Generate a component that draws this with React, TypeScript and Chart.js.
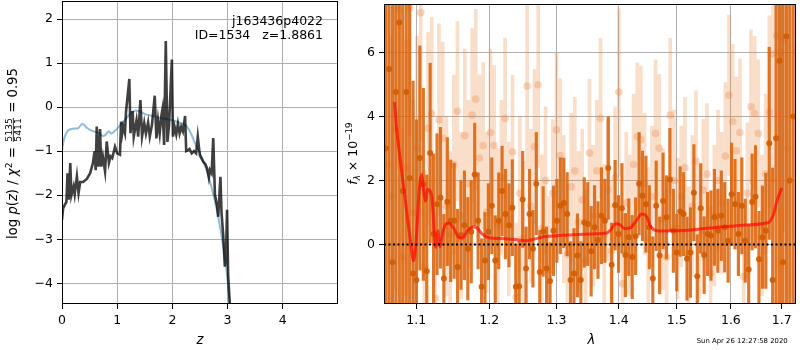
import React, { useEffect, useRef } from "react";
import { Chart, registerables } from "chart.js";

Chart.register(...registerables);

const FAMILY = '"DejaVu Sans", "Liberation Sans", sans-serif';
const TICK_SIZE = 12.5;
const LABEL_SIZE = 13.2;

// ---------- left panel: p(z) ----------
const zTicks = [0, 1, 2, 3, 4];
const logpTicks = [-4, -3, -2, -1, 0, 1, 2];
const zMin = 0;
const zMax = 5;
const logpMin = -4.47;
const logpMax = 2.41;

const priorZ = [0.0, 0.01, 0.05, 0.11, 0.2, 0.29, 0.37, 0.46, 0.57, 0.66, 0.73, 0.79, 0.84, 0.9, 0.99, 1.11, 1.23, 1.32, 1.41, 1.53, 1.68, 1.83, 1.98, 2.13, 2.25, 2.34, 2.43, 2.52, 2.61, 2.7, 2.79, 2.88, 2.97, 3.04, 3.08];
const priorLogP = [-1.0, -0.9, -0.67, -0.53, -0.49, -0.48, -0.38, -0.48, -0.55, -0.58, -0.65, -0.63, -0.55, -0.6, -0.5, -0.33, -0.16, -0.08, -0.1, -0.17, -0.21, -0.26, -0.29, -0.35, -0.43, -0.61, -0.88, -1.1, -1.4, -1.78, -2.24, -2.84, -3.6, -4.44, -4.8];

const pzZ = [0, 0.02, 0.05, 0.08, 0.10, 0.12, 0.15, 0.17, 0.21, 0.23, 0.27, 0.30, 0.33, 0.38, 0.45, 0.51, 0.56, 0.59, 0.61, 0.63, 0.66, 0.69, 0.71, 0.74, 0.78, 0.81, 0.85, 0.88, 0.91, 0.96, 1.0, 1.05, 1.07, 1.09, 1.11, 1.14, 1.16, 1.22, 1.24, 1.28, 1.30, 1.35, 1.38, 1.42, 1.45, 1.49, 1.52, 1.56, 1.59, 1.63, 1.68, 1.71, 1.74, 1.77, 1.80, 1.82, 1.85, 1.88, 1.91, 1.94, 1.99, 2.01, 2.04, 2.07, 2.10, 2.13, 2.16, 2.19, 2.23, 2.25, 2.27, 2.31, 2.35, 2.39, 2.43, 2.46, 2.48, 2.50, 2.56, 2.60, 2.63, 2.66, 2.68, 2.71, 2.74, 2.77, 2.81, 2.83, 2.87, 2.89, 2.92, 2.95, 2.97, 2.99, 3.01, 3.04, 3.06];
const pzLogP = [-2.56, -2.3, -2.22, -2.15, -1.5, -2.1, -1.27, -2.0, -1.8, -1.98, -1.57, -1.95, -1.7, -1.7, -1.63, -1.5, -1.27, -1.0, -1.43, -0.44, -1.35, -0.5, -1.35, -1.12, -1.46, -0.78, -1.27, -1.12, -1.16, -0.9, -1.05, -1.08, -0.33, -0.6, -0.44, -0.59, -0.1, 0.64, -0.59, -0.09, -0.67, -0.3, -0.67, 0.16, -0.67, -0.36, -0.6, -0.35, -0.67, -0.4, 0.26, -0.71, -0.3, -0.6, -0.2, -0.05, -0.86, 1.5, -0.79, -0.4, 1.08, -0.67, -0.45, -0.62, -0.38, -0.6, -0.45, -0.55, -0.2, -1.0, -0.99, -0.95, -1.05, -1.0, -1.05, -0.67, -0.9, -1.1, -1.24, -1.3, -1.4, -1.6, -1.43, -1.5, -0.7, -1.98, -2.25, -2.49, -1.58, -2.4, -2.9, -3.62, -3.4, -2.33, -3.8, -4.5, -4.8];

// ---------- right panel: spectrum ----------
const lamTicks = [1.1, 1.2, 1.3, 1.4, 1.5, 1.6, 1.7];
const fluxTicks = [0, 2, 4, 6];
const lamMin = 1.0587;
const lamMax = 1.729;
const fluxMin = -1.856;
const fluxMax = 7.51;

const darkLam = [1.0608, 1.0651, 1.0695, 1.0738, 1.0782, 1.0826, 1.0871, 1.0915, 1.0960, 1.1004,
  1.1049, 1.1095, 1.1140, 1.1185, 1.1231, 1.1277, 1.1323, 1.1369, 1.1416, 1.1462,
  1.1509, 1.1556, 1.1603, 1.1651, 1.1698, 1.1746, 1.1794, 1.1842, 1.1891, 1.1939,
  1.1988, 1.2037, 1.2086, 1.2136, 1.2185, 1.2235, 1.2285, 1.2335, 1.2386, 1.2436,
  1.2487, 1.2538, 1.2589, 1.2641, 1.2692, 1.2744, 1.2796, 1.2848, 1.2901, 1.2954,
  1.3006, 1.3060, 1.3113, 1.3167, 1.3220, 1.3274, 1.3329, 1.3383, 1.3438, 1.3493,
  1.3548, 1.3603, 1.3659, 1.3715, 1.3771, 1.3827, 1.3883, 1.3940, 1.3997, 1.4054,
  1.4112, 1.4169, 1.4227, 1.4285, 1.4344, 1.4402, 1.4461, 1.4520, 1.4580, 1.4639,
  1.4699, 1.4759, 1.4819, 1.4880, 1.4941, 1.5002, 1.5063, 1.5125, 1.5186, 1.5248,
  1.5311, 1.5373, 1.5436, 1.5499, 1.5563, 1.5626, 1.5690, 1.5754, 1.5819, 1.5883,
  1.5948, 1.6013, 1.6079, 1.6144, 1.6210, 1.6276, 1.6343, 1.6410, 1.6477, 1.6544,
  1.6612, 1.6680, 1.6748, 1.6816, 1.6885, 1.6954, 1.7023, 1.7093, 1.7163, 1.7233];
const darkFlux = [3.0, 5.48, -0.55, 4.76, 6.93, 1.67, 4.76, 2.08, -0.9, -1.11,
  2.7, 1.88, -0.83, 2.86, 0.33, 1.26, 1.46, -1.06, 1.34, 0.74,
  0.74, -0.7, 0.3, 0.6, -0.13, 0.4, 2.19, 0.74, -1.32, -0.5,
  0.4, 1.21, -0.5, 0.74, 1.67, 0.95, 0.6, 1.15, -1.32, -1.3,
  1.41, -0.75, 0.95, -0.13, 1.9, -0.86, 0.41, -0.75, -1.14, 0.43,
  0.74, 1.21, 1.3, 0.95, -1.11, -0.9, -0.34, -1.11, 0.69, 0.64,
  -0.21, 0.54, 0.14, 0.9, 0.74, 2.39, -0.63, 1.23, 0.33, 1.13,
  -0.33, 0.23, -0.39, 0.26, 1.9, 1.52, 1.26, 0.54, -1.06, 1.21,
  -0.34, 1.36, 0.85, 2.03, 0.43, -0.25, 1.03, 0.95, -0.44, -0.25,
  1.62, -0.99, 1.13, -0.33, 0.33, 0.28, 0.85, 0.43, 0.9, 0.54,
  0.12, 1.57, 1.26, 0.33, 1.21, 0.12, -0.78, 1.33, 1.49, -0.46,
  0.23, 0.43, 3.16, -1.11, 3.32, 5.74, -0.55, 6.5, 2.0, 4.0];
const darkErr = [9, 9, 9, 9, 9, 8, 8, 7, 6, 5,
  3.5, 3.0, 3.0, 2.8, 2.5, 2.2, 2.2, 2.0, 2.0, 1.9,
  1.8, 1.8, 1.7, 1.7, 1.6, 1.6, 1.6, 1.5, 1.5, 1.5,
  1.5, 1.5, 1.4, 1.5, 1.4, 1.4, 1.3, 1.5, 1.3, 1.4,
  1.5, 1.3, 1.4, 1.2, 1.6, 1.3, 1.4, 1.3, 1.2, 1.4,
  1.3, 1.5, 1.4, 1.3, 1.2, 1.4, 1.3, 1.2, 1.4, 1.3,
  1.4, 1.3, 1.2, 1.5, 1.3, 1.6, 1.3, 1.4, 1.2, 1.4,
  1.3, 1.2, 1.3, 1.2, 1.6, 1.4, 1.5, 1.3, 1.3, 1.4,
  1.2, 1.5, 1.3, 1.6, 1.3, 1.2, 1.4, 1.3, 1.3, 1.4,
  1.5, 1.3, 1.4, 1.2, 1.3, 1.4, 1.5, 1.3, 1.4, 1.4,
  1.3, 1.6, 1.4, 1.3, 1.5, 1.3, 1.4, 1.5, 1.6, 1.5,
  1.6, 1.8, 3.0, 3.5, 6, 9, 9, 9, 9, 9];

const lightLam = [1.0633, 1.0680, 1.0727, 1.0774, 1.0821, 1.0868, 1.0916, 1.0964, 1.1012, 1.1060,
  1.1108, 1.1157, 1.1206, 1.1255, 1.1304, 1.1354, 1.1404, 1.1454, 1.1504, 1.1554,
  1.1605, 1.1656, 1.1707, 1.1758, 1.1809, 1.1861, 1.1913, 1.1965, 1.2018, 1.2070,
  1.2123, 1.2176, 1.2229, 1.2283, 1.2337, 1.2391, 1.2445, 1.2499, 1.2554, 1.2609,
  1.2664, 1.2720, 1.2775, 1.2831, 1.2887, 1.2944, 1.3000, 1.3057, 1.3114, 1.3172,
  1.3230, 1.3287, 1.3346, 1.3404, 1.3463, 1.3522, 1.3581, 1.3640, 1.3700, 1.3760,
  1.3820, 1.3881, 1.3942, 1.4003, 1.4064, 1.4126, 1.4187, 1.4250, 1.4312, 1.4375,
  1.4438, 1.4501, 1.4564, 1.4628, 1.4692, 1.4757, 1.4821, 1.4886, 1.4951, 1.5017,
  1.5083, 1.5149, 1.5215, 1.5282, 1.5349, 1.5416, 1.5483, 1.5551, 1.5619, 1.5688,
  1.5756, 1.5825, 1.5895, 1.5964, 1.6034, 1.6104, 1.6175, 1.6246, 1.6317, 1.6388,
  1.6460, 1.6532, 1.6604, 1.6677, 1.6750, 1.6823, 1.6897, 1.6971, 1.7045, 1.7120];
const lightFlux = [2.5, 1.5, 3.6, 7.34, -0.39, 2.4, 7.4, 1.0, 3.0, 7.24,
  -0.7, 3.63, 4.09, -1.68, 3.89, 3.32, 1.2, 0.3, 2.5, 4.16,
  0.9, 3.4, 1.9, 4.04, 4.54, 2.7, 3.09, 1.0, 3.5, 3.09,
  0.6, 2.1, 3.94, 0.8, 2.89, -1.63, 1.6, 0.2, 4.95, 1.2,
  3.06, 4.99, 0.5, 2.0, -0.8, 1.6, 3.58, 2.78, 1.1, -0.3,
  1.8, 2.3, 0.7, 1.4, -0.5, 2.86, 0.9, 2.3, 3.94, 0.3,
  1.7, -0.2, 2.1, 4.76, -1.22, 1.3, 0.6, 2.5, 3.37, 3.27,
  1.9, 0.2, 1.5, 3.47, 3.01, 0.8, -0.4, 4.04, 2.0, 0.5,
  1.5, 2.4, -0.3, 1.2, 2.6, 0.4, 1.7, 2.2, -0.9, 0.9,
  2.0, 1.3, 2.76, 4.66, 3.84, 2.93, 3.5, -1.0, 1.6, 4.3,
  4.09, 3.47, 0.6, 2.2, 4.14, 5.95, 6.52, 6.0, 6.4, 3.0];
const lightErr = [6, 5, 5, 5, 4, 4, 4, 3.5, 3.5, 4,
  3, 3, 3, 2.8, 3, 3, 2.8, 2.6, 2.8, 2.8,
  2.6, 2.7, 2.6, 2.7, 2.8, 2.6, 2.6, 2.5, 2.6, 2.5,
  2.4, 2.4, 2.5, 2.4, 2.4, 2.3, 2.4, 2.4, 2.6, 2.4,
  2.4, 2.6, 2.3, 2.3, 2.3, 2.3, 2.4, 2.4, 2.3, 2.2,
  2.3, 2.3, 2.2, 2.2, 2.2, 2.3, 2.2, 2.2, 2.5, 2.2,
  2.2, 2.2, 2.2, 2.6, 2.2, 2.2, 2.2, 2.2, 2.3, 2.3,
  2.2, 2.2, 2.2, 2.3, 2.3, 2.2, 2.1, 2.4, 2.2, 2.2,
  2.2, 2.2, 2.1, 2.2, 2.2, 2.1, 2.2, 2.2, 2.1, 2.2,
  2.2, 2.2, 2.3, 2.5, 2.4, 2.3, 2.3, 2.2, 2.2, 2.4,
  2.4, 2.3, 2.2, 2.5, 3, 4, 5, 6, 6, 7];

const modelLam = [1.0721, 1.0751, 1.0807, 1.0871, 1.0935, 1.0965, 1.1000, 1.1043, 1.1073, 1.1095, 1.1122, 1.1152, 1.1184, 1.1210, 1.1241, 1.1263, 1.1290, 1.1317, 1.1361, 1.1397, 1.1451, 1.1510, 1.1568, 1.1632, 1.1692, 1.1761, 1.1831, 1.1901, 1.1996, 1.2235, 1.2380, 1.2527, 1.2626, 1.2827, 1.3030, 1.3342, 1.3553, 1.3796, 1.3878, 1.3934, 1.4016, 1.4099, 1.4210, 1.4294, 1.4379, 1.4464, 1.4550, 1.4653, 1.4898, 1.5195, 1.5498, 1.6121, 1.6735, 1.6835, 1.6901, 1.7000];
const modelFlux = [4.45, 3.53, 2.39, 1.15, -0.08, -0.5, 0.12, 1.77, 2.19, 1.77, 1.36, 1.72, 1.67, 1.46, 0.33, -0.08, 0.43, -0.08, 0.43, 0.64, 0.66, 0.48, 0.23, 0.21, 0.43, 0.54, 0.51, 0.33, 0.21, 0.18, 0.16, 0.12, 0.15, 0.25, 0.28, 0.31, 0.33, 0.36, 0.48, 0.64, 0.62, 0.5, 0.54, 0.74, 0.95, 0.9, 0.54, 0.43, 0.43, 0.45, 0.5, 0.59, 0.69, 0.95, 1.36, 1.77];

// ---------- helpers ----------
type Seg = { t?: string; it?: boolean; sc?: number; dy?: number; num?: string; den?: string };

function fontStr(size: number, italic = false) {
  return `${italic ? "italic " : ""}${size}px ${FAMILY}`;
}

function drawRich(ctx: CanvasRenderingContext2D, segs: Seg[], cx: number, cy: number, size: number, rotate: boolean) {
  ctx.save();
  ctx.translate(cx, cy);
  if (rotate) ctx.rotate(-Math.PI / 2);
  const widths = segs.map((s) => {
    if (s.num !== undefined) {
      ctx.font = fontStr(size * (s.sc || 0.7));
      return Math.max(ctx.measureText(s.num).width, ctx.measureText(s.den || "").width) + size * 0.2;
    }
    ctx.font = fontStr(size * (s.sc || 1), !!s.it);
    return ctx.measureText(s.t || "").width;
  });
  const total = widths.reduce((a, b) => a + b, 0);
  let x = -total / 2;
  const by = 0.36 * size;
  ctx.fillStyle = "#000";
  ctx.textBaseline = "alphabetic";
  segs.forEach((s, i) => {
    const w = widths[i];
    if (s.num !== undefined) {
      ctx.font = fontStr(size * (s.sc || 0.7));
      ctx.textAlign = "center";
      const bar = by - 0.3 * size;
      ctx.fillText(s.num, x + w / 2, bar - 0.1 * size);
      ctx.fillText(s.den || "", x + w / 2, bar + 0.6 * size);
      ctx.fillRect(x + 0.08 * size, bar - 0.4, w - 0.16 * size, 0.8);
    } else {
      ctx.font = fontStr(size * (s.sc || 1), !!s.it);
      ctx.textAlign = "left";
      ctx.fillText(s.t || "", x, by + (s.dy || 0) * size);
    }
    x += w;
  });
  ctx.restore();
}

const fmtNum = (v: number) => (v < 0 ? "\u2212" + String(Math.abs(v)) : String(v));

function axis(ticks: number[], fmt: (v: number) => string, isX: boolean, thickness: number) {
  return {
    grid: { color: "#b0b0b0", lineWidth: 1, tickColor: "#000", tickLength: 5, drawTicks: true, offset: false },
    border: { display: false },
    ticks: {
      color: "#000",
      font: { family: FAMILY, size: TICK_SIZE },
      padding: 4,
      autoSkip: false,
      maxRotation: 0,
      minRotation: 0,
      callback: (v: any) => fmt(Number(v)),
    },
    afterBuildTicks: (s: any) => {
      s.ticks = ticks.map((v) => ({ value: v }));
    },
    afterFit: (s: any) => {
      if (isX) s.height = thickness;
      else s.width = thickness;
      s.paddingTop = 0;
      s.paddingBottom = 0;
      s.paddingLeft = 0;
      s.paddingRight = 0;
    },
  };
}

const framePlugin = {
  id: "frame",
  afterDatasetsDraw(chart: any) {
    const { ctx, chartArea: a } = chart;
    ctx.save();
    ctx.strokeStyle = "#000";
    ctx.lineWidth = 1;
    ctx.strokeRect(Math.round(a.left) + 0.5, Math.round(a.top) + 0.5, Math.round(a.right - a.left) - 1, Math.round(a.bottom - a.top) - 1);
    ctx.restore();
  },
};

export default function App() {
  const leftRef = useRef<HTMLCanvasElement | null>(null);
  const rightRef = useRef<HTMLCanvasElement | null>(null);

  useEffect(() => {
    const leftLabels = {
      id: "leftLabels",
      afterDraw(chart: any) {
        const ctx = chart.ctx as CanvasRenderingContext2D;
        ctx.save();
        ctx.fillStyle = "#000";
        ctx.font = fontStr(TICK_SIZE);
        ctx.textAlign = "right";
        ctx.textBaseline = "alphabetic";
        ctx.fillText("j163436p4022", 323, 25);
        ctx.fillText("ID=1534   z=1.8861", 323, 39.3);
        ctx.font = fontStr(LABEL_SIZE, true);
        ctx.textAlign = "center";
        ctx.fillText("z", 200, 344);
        ctx.restore();
        drawRich(ctx, [
          { t: "log " },
          { t: "p", it: true },
          { t: "(" },
          { t: "z", it: true },
          { t: ") / " },
          { t: "\u03c7", it: true },
          { t: "2", sc: 0.7, dy: -0.4 },
          { t: " = " },
          { num: "5135", den: "5411", sc: 0.7 },
          { t: " = 0.95" },
        ], 12.5, 153.5, LABEL_SIZE, true);
      },
    };

    const left = new Chart(leftRef.current as HTMLCanvasElement, {
      type: "line",
      data: {
        datasets: [
          {
            data: pzZ.map((z, i) => ({ x: z, y: pzLogP[i] })),
            borderColor: "rgba(0,0,0,0.75)",
            borderWidth: 2.6,
            pointRadius: 0,
            tension: 0,
            order: 0,
            clip: 0,
          },
          {
            data: priorZ.map((z, i) => ({ x: z, y: priorLogP[i] })),
            borderColor: "rgba(31,119,180,0.5)",
            borderWidth: 2,
            pointRadius: 0,
            tension: 0.3,
            order: 1,
            clip: 0,
          },
        ],
      } as any,
      options: {
        responsive: false,
        animation: false,
        devicePixelRatio: 1,
        layout: { padding: { left: 0, right: 24, top: 1, bottom: 0 } },
        plugins: { legend: { display: false }, tooltip: { enabled: false } },
        scales: {
          x: { type: "linear", min: zMin, max: zMax, ...axis(zTicks, fmtNum, true, 46) } as any,
          y: { type: "linear", min: logpMin, max: logpMax, ...axis(logpTicks, fmtNum, false, 62) } as any,
        },
      },
      plugins: [framePlugin, leftLabels],
    });

    const rightLabels = {
      id: "rightLabels",
      afterDraw(chart: any) {
        const ctx = chart.ctx as CanvasRenderingContext2D;
        ctx.save();
        ctx.fillStyle = "#000";
        ctx.font = fontStr(LABEL_SIZE, true);
        ctx.textAlign = "center";
        ctx.textBaseline = "alphabetic";
        ctx.fillText("\u03bb", 251.5, 344);
        ctx.font = fontStr(6.9);
        ctx.fillText("Sun Apr 26 12:27:58 2020", 402.2, 342.5);
        ctx.restore();
        drawRich(ctx, [
          { t: "f", it: true },
          { t: "\u03bb", it: true, sc: 0.7, dy: 0.2 },
          { t: " \u00d7 10" },
          { t: "\u221219", sc: 0.7, dy: -0.4 },
        ], 12.5, 153.5, TICK_SIZE, true);
      },
    };

    const right = new Chart(rightRef.current as HTMLCanvasElement, {
      type: "scatter",
      data: {
        datasets: [
          {
            type: "line",
            data: [{ x: lamMin, y: 0 }, { x: lamMax, y: 0 }],
            borderColor: "#000",
            borderWidth: 2,
            borderDash: [2, 2.5],
            pointRadius: 0,
            order: 0,
            clip: 0,
          },
          {
            type: "line",
            data: modelLam.map((x, i) => ({ x, y: modelFlux[i] })),
            borderColor: "rgba(255,0,0,0.65)",
            borderWidth: 3,
            pointRadius: 0,
            tension: 0.25,
            order: 1,
            clip: 0,
          },
          {
            type: "scatter",
            data: darkLam.map((x, i) => ({ x, y: darkFlux[i] })),
            backgroundColor: "rgba(210,92,0,0.9)",
            borderWidth: 0,
            pointRadius: 3,
            order: 2,
            clip: 0,
          },
          {
            type: "bar",
            data: darkLam.map((x, i) => ({ x, y: [darkFlux[i] - darkErr[i], darkFlux[i] + darkErr[i]] })),
            backgroundColor: "rgba(217,100,12,0.88)",
            borderWidth: 0,
            barThickness: 2.5,
            grouped: false,
            order: 3,
            clip: 0,
          },
          {
            type: "scatter",
            data: lightLam.map((x, i) => ({ x, y: lightFlux[i] })),
            backgroundColor: "rgba(235,140,80,0.35)",
            borderWidth: 0,
            pointRadius: 3.8,
            order: 4,
            clip: 0,
          },
          {
            type: "bar",
            data: lightLam.map((x, i) => ({ x, y: [lightFlux[i] - lightErr[i], lightFlux[i] + lightErr[i]] })),
            backgroundColor: "rgba(232,125,45,0.25)",
            borderWidth: 0,
            barThickness: 3,
            grouped: false,
            order: 5,
            clip: 0,
          },
        ],
      } as any,
      options: {
        responsive: false,
        animation: false,
        devicePixelRatio: 1,
        layout: { padding: { left: 0, right: 1, top: 1, bottom: 0 } },
        plugins: { legend: { display: false }, tooltip: { enabled: false } },
        scales: {
          x: { type: "logarithmic", min: lamMin, max: lamMax, offset: false, ...axis(lamTicks, (v) => v.toFixed(1), true, 46) } as any,
          y: { type: "linear", min: fluxMin, max: fluxMax, ...axis(fluxTicks, fmtNum, false, 44) } as any,
        },
      },
      plugins: [framePlugin, rightLabels],
    });

    return () => {
      left.destroy();
      right.destroy();
    };
  }, []);

  return (
    <div style={{ position: "absolute", left: 0, top: 0, width: 800, height: 350, background: "#fff", overflow: "hidden" }}>
      <canvas ref={leftRef} width={362} height={350} style={{ position: "absolute", left: 0, top: 0, width: 362, height: 350 }} />
      <canvas ref={rightRef} width={460} height={350} style={{ position: "absolute", left: 340, top: 0, width: 460, height: 350 }} />
    </div>
  );
}
